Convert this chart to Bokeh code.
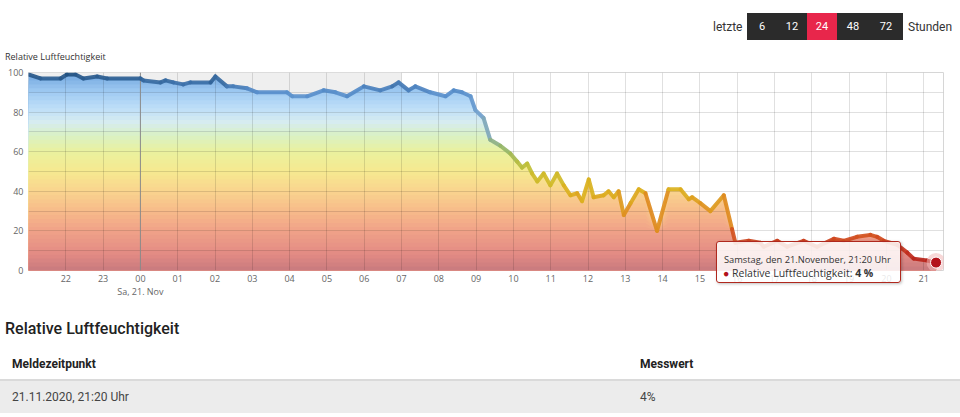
import numpy as np
from bokeh.plotting import figure
from bokeh.models import Range1d, FixedTicker, SingleIntervalTicker, Span, Div, LinearAxis
from bokeh.layouts import column
from bokeh.embed import file_html
from bokeh.resources import INLINE

# ---------------- data ----------------
# hours relative to Sa, 21.11.2020 00:00 (negative = previous evening)
stunden = [-3.0, -2.68, -2.14, -1.97, -1.74, -1.53, -1.16, -0.89, 0.0, 0.08,
           0.54, 0.67, 0.88, 1.15, 1.34, 1.88, 2.01, 2.32, 2.49, 2.86,
           3.13, 3.93, 4.07, 4.47, 4.91, 5.23, 5.54, 5.99, 6.43, 6.75,
           6.92, 7.19, 7.37, 7.77, 8.18, 8.40, 8.62, 8.85, 8.98, 9.20,
           9.38, 9.65, 9.92, 10.10, 10.23, 10.37, 10.50, 10.64, 10.81, 10.99,
           11.17, 11.35, 11.53, 11.71, 11.84, 12.02, 12.15, 12.42, 12.55, 12.69,
           12.82, 12.96, 13.14, 13.36, 13.54, 13.85, 14.16, 14.48, 14.70, 14.79,
           15.01, 15.28, 15.64, 15.86, 15.95, 16.31, 16.62, 16.71, 17.07, 17.34,
           17.78, 18.14, 18.59, 18.85, 19.21, 19.57, 19.75, 19.93, 20.29, 20.56,
           20.73, 21.09, 21.33]
feuchte = [99, 97, 97, 99, 99, 97, 98, 97, 97, 96,
           95, 96, 95, 94, 95, 95, 98, 93, 93, 92,
           90, 90, 88, 88, 91, 90, 88, 93, 91, 93,
           95, 91, 93, 90, 88, 91, 90, 88, 81, 77,
           66, 63, 59, 55, 52, 54, 49, 45, 49, 43,
           49, 43, 38, 39, 35, 46, 37, 38, 40, 37,
           40, 28, 34, 41, 39, 20, 41, 41, 36, 37,
           34, 30, 38, 21, 14, 15, 14, 12, 15, 12,
           15, 12, 16, 15, 17, 18, 17, 15, 13, 9,
           6, 5, 4]
x_ticks = list(range(-2, 22))
x_tick_labels = ["22", "23", "00", "01", "02", "03", "04", "05", "06", "07", "08", "09",
                 "10", "11", "12", "13", "14", "15", "16", "17", "18", "19", "20", "21"]
datum_tick = 0
datum_label = "Sa, 21. Nov"
y_ticks = [0, 20, 40, 60, 80, 100]
nacht = [-3.0, 7.0]
zeitraeume = ["6", "12", "24", "48", "72"]
auswahl = "24"
titel = "Relative Luftfeuchtigkeit"
tooltip_zeit = "Samstag, den 21.November, 21:20 Uhr"
tabelle_kopf = ["Meldezeitpunkt", "Messwert"]
tabelle_zeile = ["21.11.2020, 21:20 Uhr", "%d%%" % feuchte[-1]]

# ---------------- styles ----------------
FILL_STOPS = [(0, (200, 122, 126)), (8, (226, 138, 132)), (20, (240, 162, 136)),
              (30, (247, 186, 138)), (40, (249, 212, 142)), (50, (246, 233, 144)),
              (60, (234, 241, 158)), (68, (218, 241, 196)), (75, (214, 236, 240)),
              (82, (190, 222, 248)), (90, (160, 203, 242)), (100, (112, 164, 222))]
LINE_STOPS = [(0, (165, 24, 24)), (10, (200, 50, 32)), (20, (214, 92, 32)),
              (30, (222, 140, 32)), (40, (220, 176, 30)), (50, (200, 192, 48)),
              (60, (152, 184, 96)), (70, (130, 168, 180)), (80, (112, 160, 208)),
              (90, (88, 142, 204)), (95, (58, 110, 166)), (100, (28, 74, 120))]


def cmap(stops, v):
    vs = [s[0] for s in stops]
    rgb = [int(round(np.interp(v, vs, [s[1][i] for s in stops]))) for i in range(3)]
    return "#%02x%02x%02x" % tuple(rgb)


def box(left, cy, text, size, color, weight="normal", family="Roboto", width=None, align="left"):
    lh = 18
    w = f"width:{width}px;" if width else ""
    return (f'<div style="position:absolute;left:{left}px;top:{cy - lh / 2}px;{w}'
            f'height:{lh}px;line-height:{lh}px;font-family:\'{family}\',sans-serif;'
            f'font-size:{size}px;color:{color};font-weight:{weight};text-align:{align};'
            f'white-space:nowrap;">{text}</div>')


W = 960

# ---------------- top strip (buttons + chart title) ----------------
btn_left = 747
btn_widths = [30, 30, 30, 32, 34]
parts = [box(713, 27, "letzte", 12, "#333333")]
xl = btn_left
for z, bw in zip(zeitraeume, btn_widths):
    col = "#e8264b" if z == auswahl else "#2b2b2b"
    parts.append(f'<div style="position:absolute;left:{xl}px;top:13px;width:{bw}px;height:27px;'
                 f'background:{col};"></div>')
    parts.append(box(xl, 27, z, 11, "#ffffff", width=bw, align="center"))
    xl += bw
parts.append(box(xl + 5, 27, "Stunden", 12, "#333333"))
parts.append(box(5, 57, titel, 9, "#333333", family="Open Sans"))
top = Div(text='<div style="position:relative;width:%dpx;height:62px;">%s</div>' % (W, "".join(parts)),
          width=W, height=62, margin=(0, 0, 0, 0))

# ---------------- main chart ----------------
x = np.array(stunden, dtype=float)
y = np.array(feuchte, dtype=float)

p = figure(width=W, height=238, x_range=Range1d(-3.0, 21.53), y_range=Range1d(0, 100),
           min_border_left=28, min_border_right=17, min_border_top=10, min_border_bottom=29,
           toolbar_location=None, output_backend="svg")
p.outline_line_color = "#d6d6d6"

# night band
p.quad(left=[nacht[0]], right=[nacht[1]], bottom=[0], top=[100],
       fill_color="#efefef", line_color=None, level="image")

# gradient area under the curve (horizontal colour bands)
step = 2
for hi in range(100, 0, -step):
    p.varea(x=x, y1=np.zeros_like(y), y2=np.minimum(y, hi),
            fill_color=cmap(FILL_STOPS, hi - step / 2), level="image")

p.add_layout(Span(location=0, dimension="height", line_color="#8c8c8c", line_width=1, level="underlay"))

p.xgrid.ticker = FixedTicker(ticks=x_ticks)
p.ygrid.ticker = SingleIntervalTicker(interval=10)
p.grid.grid_line_color = "black"
p.grid.grid_line_alpha = 0.12

p.xaxis.ticker = FixedTicker(ticks=x_ticks)
p.xaxis.major_label_overrides = {t: l for t, l in zip(x_ticks, x_tick_labels)}
p.yaxis.ticker = FixedTicker(ticks=y_ticks)

# second row of x labels: the date under midnight
date_axis = LinearAxis(ticker=FixedTicker(ticks=[datum_tick]),
                       major_label_overrides={datum_tick: datum_label})
p.add_layout(date_axis, "below")

for ax in (p.xaxis[0], p.yaxis[0], date_axis):
    ax.axis_line_color = None
    ax.major_tick_line_color = None
    ax.minor_tick_line_color = None
    ax.major_tick_out = 0
    ax.minor_tick_out = 0
    ax.major_label_text_font = "Open Sans"
    ax.major_label_text_font_size = "9px"
    ax.major_label_text_color = "#666666"
p.xaxis[0].major_label_standoff = 4
p.yaxis[0].major_label_standoff = 5
date_axis.major_label_standoff = 0

# coloured line
mid = (y[:-1] + y[1:]) / 2
seg_colors = [cmap(LINE_STOPS, m) for m in mid]
p.segment(x0=x[:-1], y0=y[:-1], x1=x[1:], y1=y[1:], line_color=seg_colors,
          line_width=4, line_cap="round", line_alpha=0.92)

# last point marker
p.scatter([x[-1]], [y[-1]], size=19, fill_color="#f2b8b8", fill_alpha=0.55, line_color=None)
p.scatter([x[-1]], [y[-1]], size=11, fill_color="#b3121b", line_color="#ffffff", line_width=1)

# ---------------- table below (+ tooltip overlapping the chart) ----------------
rows = []
rows.append(box(5, 29, titel, 16, "#222222", weight="500"))
rows.append(box(12, 64, tabelle_kopf[0], 12, "#222222", weight="bold"))
rows.append(box(640, 64, tabelle_kopf[1], 12, "#222222", weight="bold"))
rows.append('<div style="position:absolute;left:0px;top:79px;width:%dpx;height:2px;background:#dadada;"></div>' % W)
rows.append('<div style="position:absolute;left:0px;top:81px;width:%dpx;height:32px;background:#ececec;"></div>' % W)
rows.append(box(12, 97, tabelle_zeile[0], 12, "#444444"))
rows.append(box(640, 97, tabelle_zeile[1], 12, "#444444"))
tip = ('<div style="position:absolute;left:716px;top:-59px;width:185px;height:42px;'
       'background:rgba(255,255,255,0.85);border:1px solid #b0281e;border-radius:3px;'
       'box-shadow:1px 1px 3px rgba(0,0,0,0.25);font-family:\'Open Sans\',sans-serif;color:#333333;">'
       '<div style="position:absolute;left:7px;top:12px;font-size:9.3px;line-height:12px;white-space:nowrap;">%s</div>'
       '<div style="position:absolute;left:6px;top:24px;font-size:10.5px;line-height:14px;white-space:nowrap;">'
       '<span style="color:#b3121b;">\u25cf</span> Relative Luftfeuchtigkeit: <b>%d %%</b></div></div>'
       % (tooltip_zeit, feuchte[-1]))
rows.append(tip)
bot = Div(text='<div style="position:relative;width:%dpx;height:113px;">%s</div>' % (W, "".join(rows)),
          width=W, height=113, margin=(0, 0, 0, 0))

layout = column(top, p, bot, spacing=0)
open("out.html", "w").write(file_html(layout, INLINE))
